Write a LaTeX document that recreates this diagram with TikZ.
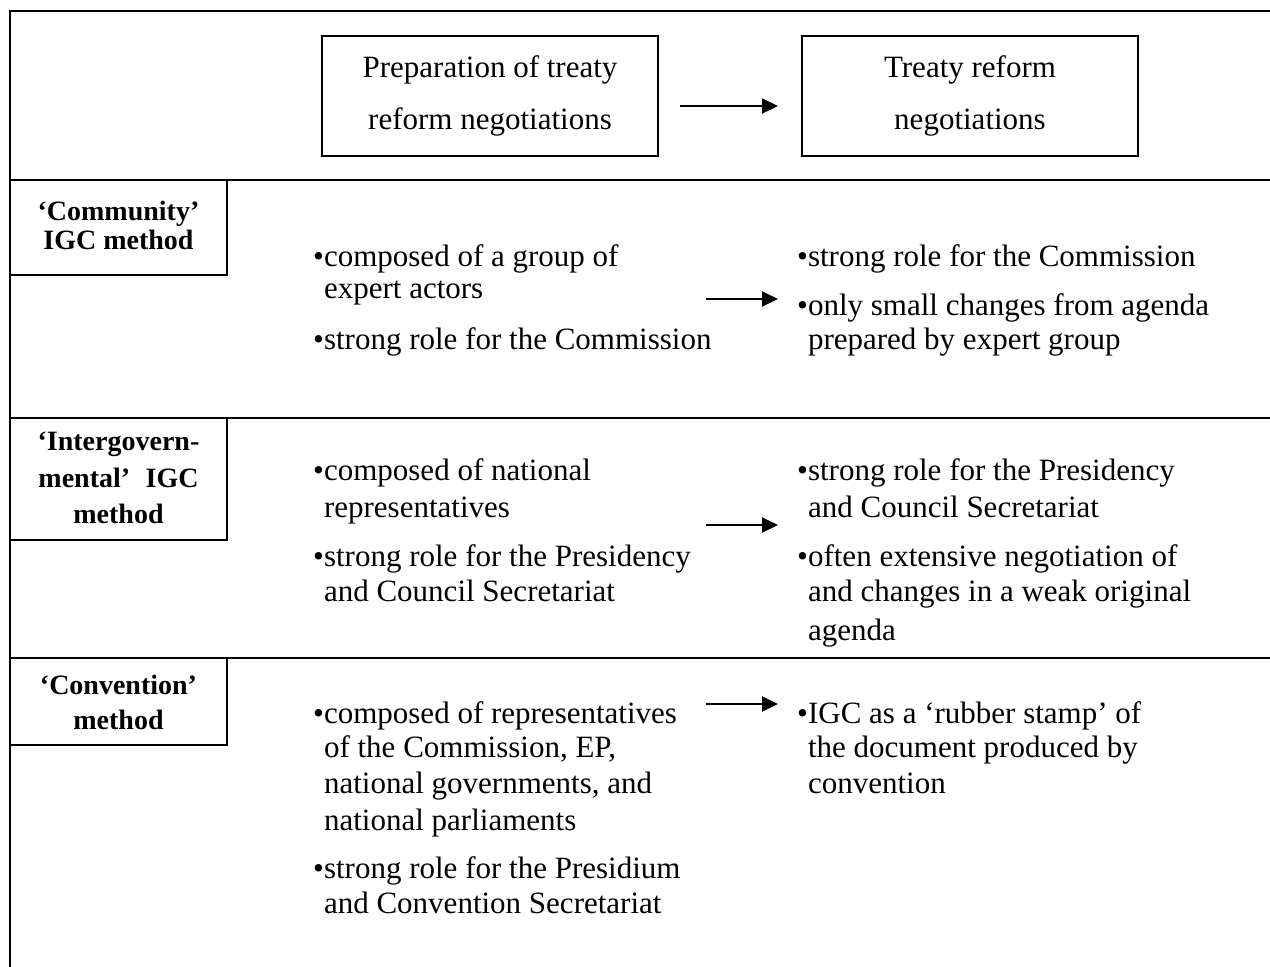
\documentclass[tikz,border=0pt]{standalone}
\usepackage{fontspec}
\setmainfont{Liberation Serif}
\usetikzlibrary{arrows.meta}
\begin{document}
\begin{tikzpicture}[x=1pt,y=-1pt,
  frame/.style={line width=2pt},
  hbox/.style={draw,line width=2pt,minimum width=336pt,minimum height=120pt,align=center,font=\fontsize{31}{52}\selectfont,inner sep=0pt},
  lbox/.style={draw,line width=2pt,minimum width=217pt,inner sep=0pt},
  ltext/.style={anchor=mid,inner sep=0pt,font=\fontsize{28}{30}\selectfont\bfseries},
  ln/.style={anchor=mid west,inner sep=0pt,font=\fontsize{31}{36}\selectfont},
  arr/.style={line width=2pt,-{Triangle[length=16pt,width=15pt]}}]
\useasboundingbox (0,0) rectangle (1270,967);
% frame and row lines
\draw[frame] (10,967) -- (10,11) -- (1270,11);
\draw[frame] (10,180) -- (1270,180);
\draw[frame] (10,418) -- (1270,418);
\draw[frame] (10,658) -- (1270,658);
% header boxes
\node[hbox] (prep) at (490,96) {Preparation of treaty\\reform negotiations};
\node[hbox] (neg) at (970,96) {Treaty reform\\negotiations};
\coordinate (h0) at (680,106);
\coordinate (h1) at (778,106);
\draw[arr] (h0) -- (h1);
% label boxes
\node[lbox,minimum height=95pt] (comm) at (118.5,227.5) {};
\node[ltext] (comma) at (118.5,218) {‘Community’};
\node[ltext] (commb) at (118.5,247) {IGC method};
\node[lbox,minimum height=122pt] (igov) at (118.5,479) {};
\node[ltext] (igova) at (118.5,448) {‘Intergovern-};
\node[ltext] (igovb) at (118.5,485) {mental’\hspace{0.55em}IGC};
\node[ltext] (igovc) at (118.5,521) {method};
\node[lbox,minimum height=87pt] (conv) at (118.5,701.5) {};
\node[ltext] (conva) at (118.5,692) {‘Convention’};
\node[ltext] (convb) at (118.5,727) {method};
% row 1
\node[ln] (r1a1) at (313,264) {•composed of a group of};
\node[ln] (r1a2) at (313,296) {\phantom{•}expert actors};
\node[ln] (r1a3) at (313,347) {•strong role for the Commission};
\node[ln] (r1b1) at (797,264) {•strong role for the Commission};
\node[ln] (r1b2) at (797,313) {•only small changes from agenda};
\node[ln] (r1b3) at (797,347) {\phantom{•}prepared by expert group};
\coordinate (a1s) at (706,299);
\coordinate (a1e) at (778,299);
\draw[arr] (a1s) -- (a1e);
% row 2
\node[ln] (r2a1) at (313,478) {•composed of national};
\node[ln] (r2a2) at (313,515) {\phantom{•}representatives};
\node[ln] (r2a3) at (313,564) {•strong role for the Presidency};
\node[ln] (r2a4) at (313,599) {\phantom{•}and Council Secretariat};
\node[ln] (r2b1) at (797,478) {•strong role for the Presidency};
\node[ln] (r2b2) at (797,515) {\phantom{•}and Council Secretariat};
\node[ln] (r2b3) at (797,564) {•often extensive negotiation of};
\node[ln] (r2b4) at (797,599) {\phantom{•}and changes in a weak original};
\node[ln] (r2b5) at (797,638) {\phantom{•}agenda};
\coordinate (a2s) at (706,525);
\coordinate (a2e) at (778,525);
\draw[arr] (a2s) -- (a2e);
% row 3
\node[ln] (r3a1) at (313,721) {•composed of representatives};
\node[ln] (r3a2) at (313,755) {\phantom{•}of the Commission, EP,};
\node[ln] (r3a3) at (313,791) {\phantom{•}national governments, and};
\node[ln] (r3a4) at (313,828) {\phantom{•}national parliaments};
\node[ln] (r3a5) at (313,876) {•strong role for the Presidium};
\node[ln] (r3a6) at (313,911) {\phantom{•}and Convention Secretariat};
\node[ln] (r3b1) at (797,721) {•IGC as a ‘rubber stamp’ of};
\node[ln] (r3b2) at (797,755) {\phantom{•}the document produced by};
\node[ln] (r3b3) at (797,791) {\phantom{•}convention};
\coordinate (a3s) at (706,704);
\coordinate (a3e) at (778,704);
\draw[arr] (a3s) -- (a3e);
\end{tikzpicture}
\end{document}
